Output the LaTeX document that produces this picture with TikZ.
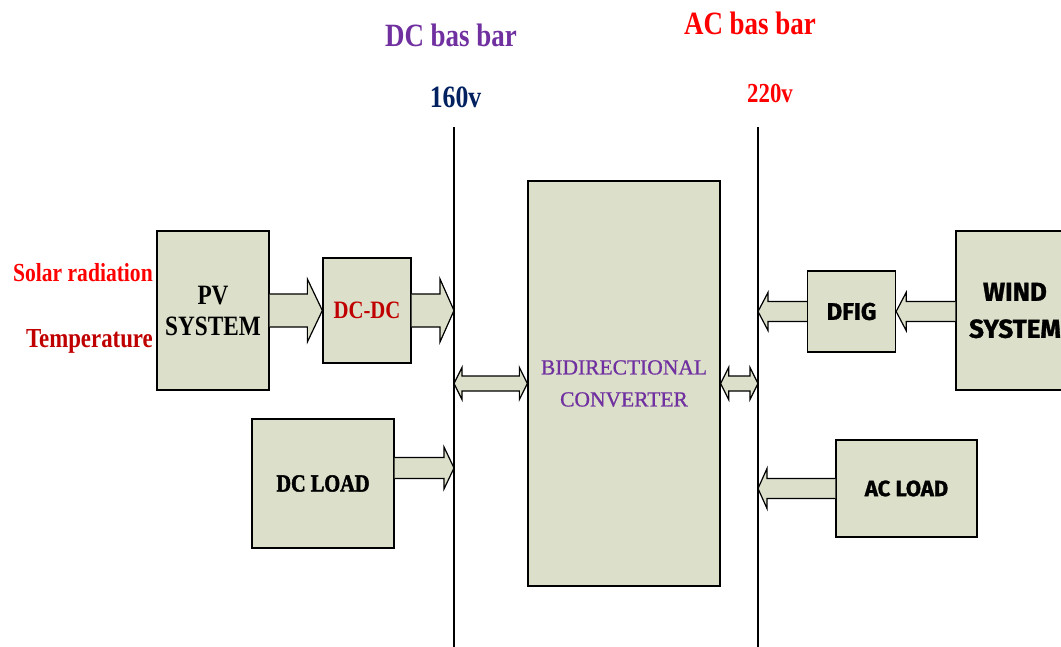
\documentclass[tikz,border=0pt]{standalone}
\usepackage{fontspec}
\setmainfont{Liberation Serif}[FakeStretch=0.83]
\newfontfamily\heavysans{Fira Sans}[BoldFeatures={FakeBold=1.2}]
\newfontfamily\decofont{Liberation Serif}[FakeStretch=0.83, BoldFeatures={FakeBold=2}]
\newfontfamily\convfont{Liberation Serif}[FakeBold=0.8]
\usetikzlibrary{calc}
\definecolor{boxfill}{RGB}{220,224,202}
\definecolor{dcpurple}{RGB}{112,48,160}
\definecolor{acred}{RGB}{255,0,0}
\definecolor{darkred}{RGB}{192,0,0}
\definecolor{navy}{RGB}{0,32,96}
\tikzset{
  blockbox/.style={draw=black, fill=boxfill, line width=1.3pt, inner sep=0pt, align=center},
  busline/.style={draw=black, line width=1.1pt},
  arrowfill/.style={fill=boxfill},
  arrowline/.style={draw=black, line width=1.2pt, line join=miter},
  toplabel/.style={inner sep=0pt, anchor=base, font=\bfseries}
}
% single block arrow: from, to, shaft half, head half, head length
\newcommand{\blockarrow}[5]{%
  \fill[arrowfill] let \p1=(#1), \p2=(#2), \n1={sign(\x2-\x1)*#5} in
    (\x1,\y2+#3pt) -- (\x2-\n1,\y2+#3pt) -- (\x2-\n1,\y2+#4pt) -- (\x2,\y2)
    -- (\x2-\n1,\y2-#4pt) -- (\x2-\n1,\y2-#3pt) -- (\x1,\y2-#3pt) -- cycle;
  \draw[arrowline] let \p1=(#1), \p2=(#2), \n1={sign(\x2-\x1)*#5} in
    (\x1,\y2+#3pt) -- (\x2-\n1,\y2+#3pt) -- (\x2-\n1,\y2+#4pt) -- (\x2,\y2)
    -- (\x2-\n1,\y2-#4pt) -- (\x2-\n1,\y2-#3pt) -- (\x1,\y2-#3pt);
}
% double block arrow: from, to, shaft half, head half, head length
\newcommand{\dblarrow}[5]{%
  \filldraw[arrowfill, arrowline] let \p1=(#1), \p2=(#2) in
    (\x1,\y1) -- (\x1+#5pt,\y1+#4pt) -- (\x1+#5pt,\y1+#3pt) -- (\x2-#5pt,\y1+#3pt)
    -- (\x2-#5pt,\y1+#4pt) -- (\x2,\y1) -- (\x2-#5pt,\y1-#4pt) -- (\x2-#5pt,\y1-#3pt)
    -- (\x1+#5pt,\y1-#3pt) -- (\x1+#5pt,\y1-#4pt) -- cycle;
}
\begin{document}
\begin{tikzpicture}[x=1pt,y=-1pt]
\useasboundingbox (0,0) rectangle (1061,647);
\clip (0,0) rectangle (1061,647);

% top labels
\node[toplabel, text=dcpurple, font=\bfseries\fontsize{32.5}{36}\selectfont] (dcbas) at (451,47) {DC bas bar};
\node[toplabel, text=acred, font=\bfseries\fontsize{32.5}{36}\selectfont] (acbas) at (750,35) {AC bas bar};
\node[toplabel, text=navy, font=\bfseries\fontsize{31}{34}\selectfont] (v160) at (455.5,108) {160v};
\node[toplabel, text=acred, font=\bfseries\fontsize{27.5}{30}\selectfont] (v220) at (770,103) {220v};

% bus lines
\coordinate (dctop) at (454,127);
\coordinate (dcbot) at (454,647);
\coordinate (actop) at (758,127);
\coordinate (acbot) at (758,647);
\draw[busline] (dctop) -- (dcbot);
\draw[busline] (actop) -- (acbot);

% blocks
\node[blockbox, minimum width=112pt, minimum height=159pt, font=\bfseries\fontsize{28}{31}\selectfont] (pv) at (213,310.5) {PV\\SYSTEM};
\node[blockbox, minimum width=88pt, minimum height=105pt, text=darkred, font=\bfseries\fontsize{25}{28}\selectfont] (dcdc) at (367,310.5) {DC-DC};
\node[blockbox, minimum width=142pt, minimum height=129pt, font=\decofont\bfseries\fontsize{24.5}{28}\selectfont] (dcload) at (323,483.5) {DC LOAD};
\node[blockbox, minimum width=192pt, minimum height=405pt, text=dcpurple, font=\convfont\fontsize{21.5}{32}\selectfont] (conv) at (624,383.5) {BIDIRECTIONAL\\CONVERTER};
\node[blockbox, minimum width=88pt, minimum height=81pt, font=\heavysans\bfseries\fontsize{24}{28}\selectfont] (dfig) at (851.5,311.5) {DFIG};
\node[blockbox, minimum width=118pt, minimum height=159pt, font=\heavysans\bfseries\fontsize{26}{37}\selectfont] (wind) at (1015,310.5) {WIND\\SYSTEM};
\node[blockbox, minimum width=141pt, minimum height=97pt, font=\heavysans\bfseries\fontsize{22}{26}\selectfont] (acload) at (906.5,488.5) {AC LOAD};

% input labels
\node[inner sep=0pt, anchor=base east, text=acred, font=\bfseries\fontsize{26}{29}\selectfont] (solar) at (153,282) {Solar radiation};
\node[inner sep=0pt, anchor=base east, text=darkred, font=\bfseries\fontsize{27.5}{30}\selectfont] (temp) at (153,347) {Temperature};

% arrows
\coordinate (dcloadtip) at (454,468);
\blockarrow{pv.east}{dcdc.west}{16.5}{31.5}{15}
\blockarrow{dcdc.east}{dcdc.east -| dctop}{16.5}{31.5}{14}
\blockarrow{dcloadtip -| dcload.east}{dcloadtip}{10.5}{21}{10}
\dblarrow{conv.west -| dctop}{conv.west}{7.5}{16}{8}
\dblarrow{conv.east}{conv.east -| actop}{7.5}{16}{8}
\blockarrow{dfig.west}{dfig.west -| actop}{10}{19}{10}
\blockarrow{wind.west |- dfig.west}{dfig.east}{10}{19}{10}
\blockarrow{acload.west}{acload.west -| actop}{10}{20}{9}
\end{tikzpicture}
\end{document}
